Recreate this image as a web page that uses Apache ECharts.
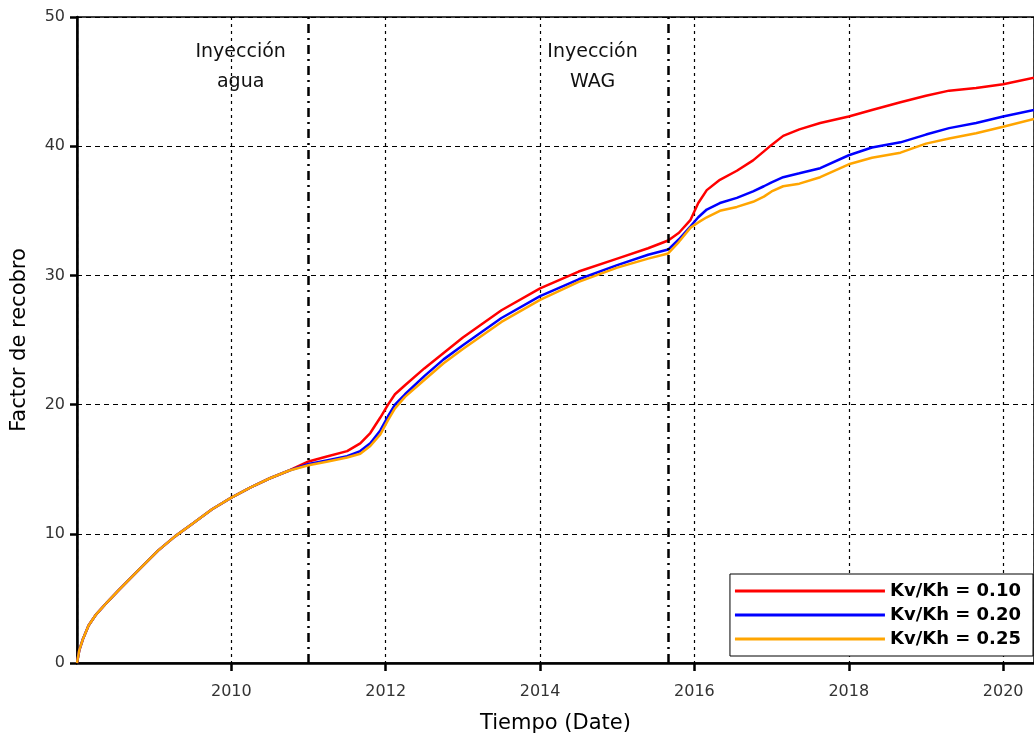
<!DOCTYPE html>
<html>
<head>
<meta charset="utf-8">
<script src="https://cdn.jsdelivr.net/npm/echarts@6/dist/echarts.min.js"></script>
<style>
  html, body { margin: 0; padding: 0; background: #fff; }
  #chart { width: 1034px; height: 733px; }
</style>
</head>
<body>
<div id="chart"></div>
<script>
// tiempo en años decimales
var years = [2008.00, 2008.03, 2008.08, 2008.15, 2008.24, 2008.39, 2008.55, 2008.80, 2009.05, 2009.27,
  2009.50, 2009.75, 2010.00, 2010.25, 2010.50, 2010.75, 2011.00, 2011.25, 2011.50, 2011.67,
  2011.80, 2011.93, 2012.03, 2012.12, 2012.25, 2012.50, 2012.75, 2013.00, 2013.50, 2014.00,
  2014.50, 2015.00, 2015.40, 2015.66, 2015.80, 2015.95, 2016.05, 2016.16, 2016.33, 2016.55,
  2016.76, 2016.90, 2017.00, 2017.15, 2017.36, 2017.63, 2018.00, 2018.30, 2018.67, 2019.00,
  2019.30, 2019.65, 2020.00, 2020.40];

var kv010 = [0, 1.0, 1.9, 2.9, 3.7, 4.7, 5.7, 7.2, 8.7, 9.8,
  10.8, 11.9, 12.8, 13.6, 14.3, 14.9, 15.6, 16.0, 16.4, 17.0,
  17.8, 19.0, 20.0, 20.8, 21.5, 22.8, 24.0, 25.2, 27.3, 29.0,
  30.3, 31.3, 32.1, 32.7, 33.3, 34.3, 35.6, 36.6, 37.4, 38.1,
  38.9, 39.6, 40.1, 40.8, 41.3, 41.8, 42.3, 42.8, 43.4, 43.9,
  44.3, 44.5, 44.8, 45.3];

var kv020 = [0, 1.0, 1.9, 2.9, 3.7, 4.7, 5.7, 7.2, 8.7, 9.8,
  10.8, 11.9, 12.8, 13.6, 14.3, 14.9, 15.4, 15.7, 16.0, 16.4,
  17.0, 18.0, 19.1, 20.0, 20.8, 22.2, 23.5, 24.6, 26.7, 28.4,
  29.7, 30.8, 31.6, 32.0, 32.8, 33.8, 34.5, 35.1, 35.6, 36.0,
  36.5, 36.9, 37.2, 37.6, 37.9, 38.3, 39.3, 39.9, 40.3, 40.9,
  41.4, 41.8, 42.3, 42.8];

var kv025 = [0, 1.0, 1.9, 2.9, 3.7, 4.7, 5.7, 7.2, 8.7, 9.8,
  10.8, 11.9, 12.8, 13.6, 14.3, 14.9, 15.3, 15.6, 15.9, 16.2,
  16.8, 17.7, 18.8, 19.7, 20.6, 21.9, 23.2, 24.3, 26.4, 28.1,
  29.5, 30.6, 31.3, 31.7, 32.6, 33.7, 34.1, 34.5, 35.0, 35.3,
  35.7, 36.1, 36.5, 36.9, 37.1, 37.6, 38.6, 39.1, 39.5, 40.2,
  40.6, 41.0, 41.5, 42.1];

var seriesNames = ['Kv/Kh = 0.10', 'Kv/Kh = 0.20', 'Kv/Kh = 0.25'];
var seriesColors = ['#ff0000', '#0000ff', '#ffa500'];
var seriesValues = [kv010, kv020, kv025];

// eventos de inyección
var eventYears = [2011.0, 2015.66];
var eventLabels = ['Inyección\nagua', 'Inyección\nWAG'];
var eventLabelPos = [[2010.12, 46.1], [2014.68, 46.1]];

function pairs(vals) {
  return years.map(function (t, i) { return [t, vals[i]]; });
}

var series = seriesNames.map(function (name, i) {
  return {
    name: name,
    type: 'line',
    showSymbol: false,
    data: pairs(seriesValues[i]),
    lineStyle: { color: seriesColors[i], width: 2.5 },
    itemStyle: { color: seriesColors[i] },
    z: 3 + i
  };
});

series.push({
  name: 'eventos',
  type: 'line',
  data: [],
  silent: true,
  markLine: {
    symbol: 'none',
    silent: true,
    label: { show: false },
    lineStyle: { color: '#000', width: 2.5, type: [9, 5, 2, 5] },
    data: eventYears.map(function (t) { return { xAxis: t }; })
  },
  markPoint: {
    symbol: 'circle',
    symbolSize: 0,
    silent: true,
    label: {
      show: true,
      position: 'inside',
      color: '#111',
      fontSize: 19,
      lineHeight: 30,
      fontFamily: 'DejaVu Sans',
      formatter: function (p) { return p.name; }
    },
    data: eventLabels.map(function (txt, i) {
      return { name: txt, coord: eventLabelPos[i] };
    })
  }
});

var chart = echarts.init(document.getElementById('chart'));
chart.setOption({
  animation: false,
  backgroundColor: '#fff',
  grid: {
    left: 77, right: 0, top: 17, bottom: 70,
    outerBoundsMode: 'none',
    show: true, borderColor: '#000', borderWidth: 1.5
  },
  legend: {
    data: seriesNames,
    orient: 'vertical',
    right: 1,
    bottom: 77,
    align: 'left',
    itemWidth: 150,
    itemHeight: 3,
    itemGap: 4,
    icon: 'rect',
    padding: [7, 12, 7, 5],
    backgroundColor: '#fff',
    borderColor: '#000',
    borderWidth: 1,
    borderRadius: 0,
    textStyle: { fontFamily: 'DejaVu Sans', fontSize: 18, fontWeight: 'bold', color: '#000', lineHeight: 20 }
  },
  xAxis: {
    type: 'value',
    min: 2008,
    max: 2020.4,
    interval: 2,
    name: 'Tiempo (Date)',
    nameLocation: 'middle',
    nameGap: 50,
    nameTextStyle: { fontFamily: 'DejaVu Sans', fontSize: 21, color: '#000' },
    axisLine: { lineStyle: { color: '#000', width: 2.5 } },
    axisTick: { show: true, length: 8, lineStyle: { color: '#000', width: 2.5 } },
    axisLabel: {
      fontFamily: 'DejaVu Sans', fontSize: 16, color: '#333', margin: 21,
      showMinLabel: false,
      formatter: function (v) { return v === 2008 ? '' : String(v); }
    },
    splitLine: { show: true, lineStyle: { color: '#000', width: 1.2, type: [3, 4] } }
  },
  yAxis: {
    type: 'value',
    min: 0,
    max: 50,
    interval: 10,
    name: 'Factor de recobro',
    nameLocation: 'middle',
    nameGap: 47,
    nameTextStyle: { fontFamily: 'DejaVu Sans', fontSize: 21, color: '#000' },
    axisLine: { show: true, lineStyle: { color: '#000', width: 2.5 } },
    axisTick: { show: true, length: 7, lineStyle: { color: '#000', width: 2.5 } },
    axisLabel: { fontFamily: 'DejaVu Sans', fontSize: 16, color: '#333', margin: 12 },
    splitLine: { show: true, lineStyle: { color: '#000', width: 1.2, type: [5, 4] } }
  },
  series: series
});
</script>
</body>
</html>
